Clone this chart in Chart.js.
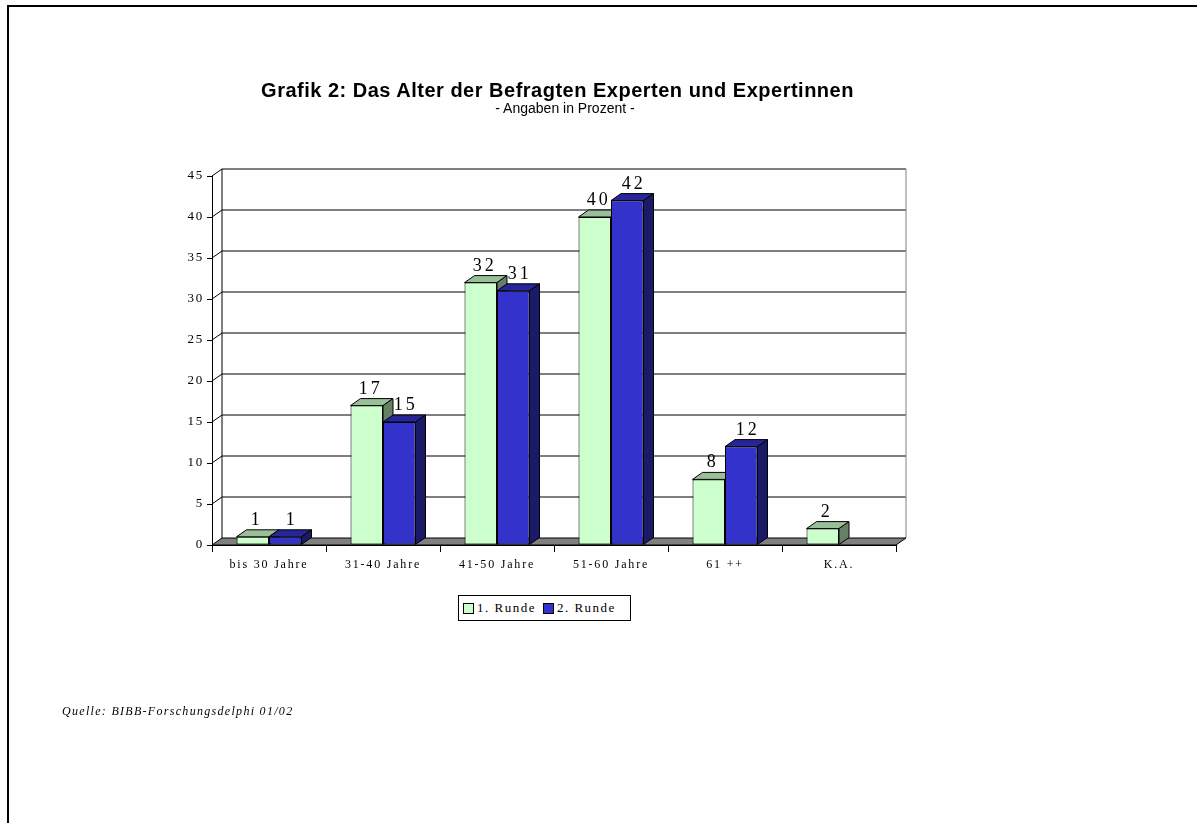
<!DOCTYPE html>
<html>
<head>
<meta charset="utf-8">
<script src="https://cdn.jsdelivr.net/npm/chart.js@4.4.1/dist/chart.umd.min.js"></script>
<style>
  html, body { margin:0; padding:0; background:#fff; width:1197px; height:823px; overflow:hidden; }
  #frame { position:absolute; left:7px; top:5px; width:1250px; height:900px; border-top:2px solid #000; border-left:2px solid #000; }
  #chartWrap { position:absolute; left:0; top:0; width:1197px; height:823px; }
  .txt { position:absolute; white-space:nowrap; color:#000; }
  #title { left:0; width:1115px; text-align:center; top:79px; font:bold 20px "Liberation Sans", Arial, sans-serif; letter-spacing:0.5px; line-height:23px; }
  #subtitle { left:0; width:1130px; text-align:center; top:100px; font:14px "Liberation Sans", Arial, sans-serif; line-height:17px; }
  #legend { position:absolute; left:458px; top:595px; width:171px; height:24px; border:1px solid #000; background:#fff;
            font:13px "Liberation Serif", "Times New Roman", serif; letter-spacing:1.5px; display:flex; align-items:center; }
  #legend .sw { display:inline-block; width:9px; height:9px; border:1px solid #000; margin-left:4px; margin-right:3px; }
  #legend .lb { display:inline-block; margin-right:3px; }
  #source { left:62px; top:704px; font:italic 12px "Liberation Serif", "Times New Roman", serif; letter-spacing:1.3px; }
</style>
</head>
<body>
<div id="frame"></div>
<div id="chartWrap"><canvas id="c" width="1197" height="823"></canvas></div>
<div class="txt" id="title">Grafik 2: Das Alter der Befragten Experten und Expertinnen</div>
<div class="txt" id="subtitle">- Angaben in Prozent -</div>
<div id="legend"></div>
<div class="txt" id="source">Quelle: BIBB-Forschungsdelphi 01/02</div>
<script>
// ---- data ----
const categories = ['bis 30 Jahre', '31-40 Jahre', '41-50 Jahre', '51-60 Jahre', '61 ++', 'K.A.'];
const seriesNames = ['1. Runde', '2. Runde'];
const runde1 = [1, 17, 32, 40, 8, 2];
const runde2 = [1, 15, 31, 42, 12, null];
const yMin = 0;
const yMax = 45;
const yStep = 5;

// ---- styles ----
const frontColors = ['#CCFFCC', '#3333CC'];
const topColors   = ['#99BF99', '#262699'];
const sideColors  = ['#668066', '#1A1A66'];
const labelShift  = [4, 6.5];
const DX = 10, DY = -7;

// legend (HTML text)
const legendEl = document.getElementById('legend');
seriesNames.forEach((n, i) => {
  const sw = document.createElement('span'); sw.className = 'sw'; sw.style.background = frontColors[i];
  const lb = document.createElement('span'); lb.className = 'lb'; lb.textContent = n;
  legendEl.appendChild(sw); legendEl.appendChild(lb);
});

function poly(ctx, pts, fill) {
  ctx.beginPath();
  ctx.moveTo(pts[0][0], pts[0][1]);
  for (let i = 1; i < pts.length; i++) ctx.lineTo(pts[i][0], pts[i][1]);
  ctx.closePath();
  if (fill) { ctx.fillStyle = fill; ctx.fill(); }
  ctx.strokeStyle = '#000'; ctx.lineWidth = 1; ctx.stroke();
}

const spacingPlugin = {
  id: 'spacing',
  beforeDraw(chart) { try { chart.ctx.letterSpacing = '1.8px'; } catch (e) {} }
};

const threeD = {
  id: 'threeD',
  beforeDatasetsDraw(chart) {
    const ctx = chart.ctx, a = chart.chartArea, ys = chart.scales.y;
    ctx.save();
    ctx.lineWidth = 1;
    ctx.strokeStyle = '#000';
    for (let v = yMin + yStep; v <= yMax; v += yStep) {
      const py = ys.getPixelForValue(v);
      ctx.beginPath();
      ctx.moveTo(a.left, py);
      ctx.lineTo(a.left + DX, py + DY);
      ctx.lineTo(a.right + DX, py + DY);
      ctx.stroke();
    }
    ctx.beginPath();
    ctx.moveTo(a.left + DX, ys.getPixelForValue(yMax) + DY);
    ctx.lineTo(a.left + DX, ys.getPixelForValue(yMin) + DY);
    ctx.stroke();
    ctx.strokeStyle = '#808080';
    ctx.beginPath();
    ctx.moveTo(a.right + DX, ys.getPixelForValue(yMax) + DY);
    ctx.lineTo(a.right + DX, ys.getPixelForValue(yMin) + DY);
    ctx.stroke();
    const b = ys.getPixelForValue(yMin);
    poly(ctx, [[a.left, b], [a.left + DX, b + DY], [a.right + DX, b + DY], [a.right, b]], '#808080');
    chart.data.datasets.forEach((ds, di) => {
      const meta = chart.getDatasetMeta(di);
      meta.data.forEach((bar, i) => {
        if (ds.data[i] == null) return;
        const p = bar.getProps(['x', 'y', 'base', 'width'], true);
        const l = p.x - p.width / 2, r = p.x + p.width / 2, t = p.y, bb = p.base;
        poly(ctx, [[l, t], [l + DX, t + DY], [r + DX, t + DY], [r, t]], topColors[di]);
        poly(ctx, [[r, t], [r + DX, t + DY], [r + DX, bb + DY], [r, bb]], sideColors[di]);
      });
    });
    ctx.restore();
  },
  afterDatasetsDraw(chart) {
    const ctx = chart.ctx;
    ctx.save();
    ctx.font = '18px "Liberation Serif", "Times New Roman", serif';
    try { ctx.letterSpacing = '3px'; } catch (e) {}
    ctx.fillStyle = '#000';
    ctx.textAlign = 'center';
    ctx.textBaseline = 'alphabetic';
    chart.data.datasets.forEach((ds, di) => {
      const meta = chart.getDatasetMeta(di);
      meta.data.forEach((bar, i) => {
        const v = ds.data[i];
        if (v == null) return;
        const p = bar.getProps(['x', 'y', 'width'], true);
        ctx.fillText(String(v), p.x + labelShift[di], p.y + DY - 5);
      });
    });
    ctx.restore();
  }
};

new Chart(document.getElementById('c'), {
  type: 'bar',
  data: {
    labels: categories,
    datasets: [
      { label: seriesNames[0], data: runde1, backgroundColor: frontColors[0], borderColor: '#000', borderWidth: 1, borderSkipped: false },
      { label: seriesNames[1], data: runde2, backgroundColor: frontColors[1], borderColor: '#000', borderWidth: 1, borderSkipped: false }
    ]
  },
  options: {
    responsive: false,
    animation: false,
    devicePixelRatio: 1,
    layout: { padding: { left: 0, top: 176, right: 301, bottom: 0 } },
    datasets: { bar: { categoryPercentage: 0.57, barPercentage: 1.0 } },
    plugins: { legend: { display: false }, title: { display: false }, tooltip: { enabled: false } },
    scales: {
      x: {
        offset: true,
        grid: { display: true, offset: true, drawOnChartArea: false, drawTicks: true, tickLength: 7, color: '#000' },
        border: { display: true, color: '#000', width: 1 },
        ticks: { color: '#000', font: { family: '"Liberation Serif", "Times New Roman", serif', size: 12 }, padding: 6, maxRotation: 0 },
        afterFit(s) { s.height = 823 - 545; }
      },
      y: {
        min: yMin, max: yMax,
        grid: { display: true, drawOnChartArea: false, drawTicks: true, tickLength: 5, color: '#000' },
        border: { display: true, color: '#000', width: 1 },
        ticks: { stepSize: yStep, color: '#000', font: { family: '"Liberation Serif", "Times New Roman", serif', size: 13 }, padding: 3 },
        afterFit(s) { s.width = 212; }
      }
    }
  },
  plugins: [spacingPlugin, threeD]
});
</script>
</body>
</html>
